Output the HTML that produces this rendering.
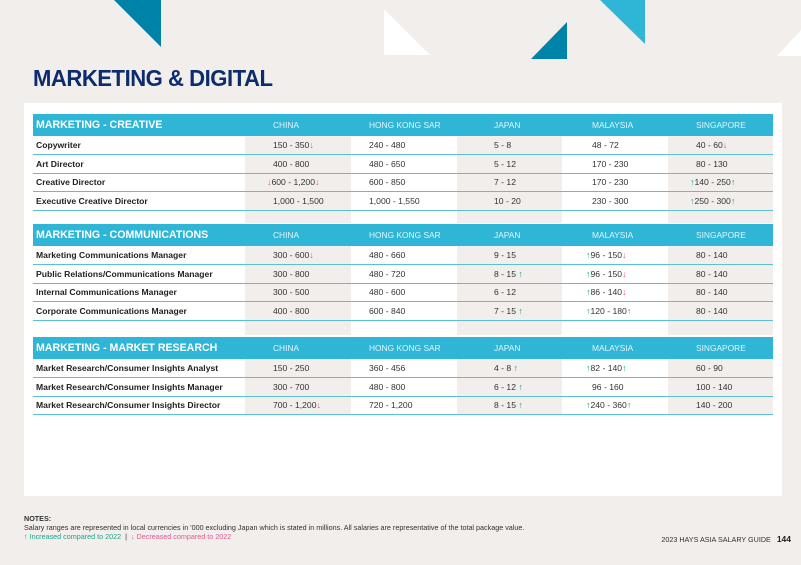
<!DOCTYPE html>
<html><head><meta charset="utf-8"><style>
*{margin:0;padding:0;box-sizing:border-box}
body{width:801px;height:565px;background:#f2eeeb;position:relative;overflow:hidden;font-family:"Liberation Sans",Arial,sans-serif}
.panel{position:absolute;left:24px;top:103px;width:758px;height:393px;background:#fff}
h1{position:absolute;left:33px;top:65px;font-size:23px;font-weight:bold;color:#0c2c6e;letter-spacing:-0.5px;transform:scaleX(0.96);transform-origin:left}
table{position:absolute;left:33px;width:740px;border-collapse:collapse;table-layout:fixed}
td{font-size:8.6px;color:#333;padding:0;height:18.5px;border-bottom:1.5px solid #5bbfd8;vertical-align:middle}
td.l{font-weight:bold;color:#222;padding-left:3px}
tr.h td{background:#2fb6d6;color:#e3f5fb;height:22px;border-bottom:none;font-size:8.4px}
tr.h td.l{font-size:10.6px;color:#fff;font-weight:bold}
tr.s td{height:auto;border-bottom:none}
.g{background:#f2eeeb}
td.c1{padding-left:28px}td.c2{padding-left:18px}td.c3{padding-left:37px}td.c4{padding-left:30px}td.c5{padding-left:28px}
.u{color:#19a58a;font-size:9px}.d{color:#e05a92;font-size:9px}
.foot{position:absolute;left:24px;font-size:7.2px;color:#333}
</style></head><body>
<svg width="801" height="100" style="position:absolute;left:0;top:0">
<polygon points="114,0 161,0 161,47" fill="#0083a9"/>
<polygon points="384,9 384,55 430,55" fill="#fff"/>
<polygon points="531,59 567,59 567,22" fill="#0083a9"/>
<polygon points="600,0 645,0 645,44" fill="#2fb6d6"/>
<polygon points="777,56 801,56 801,30" fill="#fff"/>
</svg>
<h1>MARKETING &amp; DIGITAL</h1>
<div class="panel"></div>

<table style="top:114px">
<colgroup><col style="width:212px"><col style="width:106px"><col style="width:106px"><col style="width:105px"><col style="width:106px"><col style="width:105px"></colgroup>
<tr class="h"><td class="l">MARKETING - CREATIVE</td><td class="c1">CHINA</td><td class="c2">HONG KONG SAR</td><td class="c3">JAPAN</td><td class="c4">MALAYSIA</td><td class="c5">SINGAPORE</td></tr>
<tr><td class="l">Copywriter</td><td class="c1 g">150 - 350<span class="d">↓</span></td><td class="c2">240 - 480</td><td class="c3 g">5 - 8</td><td class="c4">48 - 72</td><td class="c5 g">40 - 60<span class="d">↓</span></td></tr>
<tr><td class="l">Art Director</td><td class="c1 g">400 - 800</td><td class="c2">480 - 650</td><td class="c3 g">5 - 12</td><td class="c4">170 - 230</td><td class="c5 g">80 - 130</td></tr>
<tr><td class="l">Creative Director</td><td class="c1 g" style="padding-left:22px"><span class="d">↓</span>600 - 1,200<span class="d">↓</span></td><td class="c2">600 - 850</td><td class="c3 g">7 - 12</td><td class="c4">170 - 230</td><td class="c5 g" style="padding-left:22px"><span class="u">↑</span>140 - 250<span class="u">↑</span></td></tr>
<tr><td class="l">Executive Creative Director</td><td class="c1 g">1,000 - 1,500</td><td class="c2">1,000 - 1,550</td><td class="c3 g">10 - 20</td><td class="c4">230 - 300</td><td class="c5 g" style="padding-left:22px"><span class="u">↑</span>250 - 300<span class="u">↑</span></td></tr>
<tr class="s"><td style="height:13px"></td><td class="g"></td><td></td><td class="g"></td><td></td><td class="g"></td></tr>
</table>

<table style="top:224px">
<colgroup><col style="width:212px"><col style="width:106px"><col style="width:106px"><col style="width:105px"><col style="width:106px"><col style="width:105px"></colgroup>
<tr class="h"><td class="l">MARKETING - COMMUNICATIONS</td><td class="c1">CHINA</td><td class="c2">HONG KONG SAR</td><td class="c3">JAPAN</td><td class="c4">MALAYSIA</td><td class="c5">SINGAPORE</td></tr>
<tr><td class="l">Marketing Communications Manager</td><td class="c1 g">300 - 600<span class="d">↓</span></td><td class="c2">480 - 660</td><td class="c3 g">9 - 15</td><td class="c4" style="padding-left:24px"><span class="u">↑</span>96 - 150<span class="d">↓</span></td><td class="c5 g">80 - 140</td></tr>
<tr><td class="l">Public Relations/Communications Manager</td><td class="c1 g">300 - 800</td><td class="c2">480 - 720</td><td class="c3 g">8 - 15 <span class="u">↑</span></td><td class="c4" style="padding-left:24px"><span class="u">↑</span>96 - 150<span class="d">↓</span></td><td class="c5 g">80 - 140</td></tr>
<tr><td class="l">Internal Communications Manager</td><td class="c1 g">300 - 500</td><td class="c2">480 - 600</td><td class="c3 g">6 - 12</td><td class="c4" style="padding-left:24px"><span class="u">↑</span>86 - 140<span class="d">↓</span></td><td class="c5 g">80 - 140</td></tr>
<tr><td class="l">Corporate Communications Manager</td><td class="c1 g">400 - 800</td><td class="c2">600 - 840</td><td class="c3 g">7 - 15 <span class="u">↑</span></td><td class="c4" style="padding-left:24px"><span class="u">↑</span>120 - 180<span class="u">↑</span></td><td class="c5 g">80 - 140</td></tr>
<tr class="s"><td style="height:15px"></td><td class="g"></td><td></td><td class="g"></td><td></td><td class="g"></td></tr>
</table>

<table style="top:337px">
<colgroup><col style="width:212px"><col style="width:106px"><col style="width:106px"><col style="width:105px"><col style="width:106px"><col style="width:105px"></colgroup>
<tr class="h"><td class="l">MARKETING - MARKET RESEARCH</td><td class="c1">CHINA</td><td class="c2">HONG KONG SAR</td><td class="c3">JAPAN</td><td class="c4">MALAYSIA</td><td class="c5">SINGAPORE</td></tr>
<tr><td class="l">Market Research/Consumer Insights Analyst</td><td class="c1 g">150 - 250</td><td class="c2">360 - 456</td><td class="c3 g">4 - 8 <span class="u">↑</span></td><td class="c4" style="padding-left:24px"><span class="u">↑</span>82 - 140<span class="u">↑</span></td><td class="c5 g">60 - 90</td></tr>
<tr><td class="l">Market Research/Consumer Insights Manager</td><td class="c1 g">300 - 700</td><td class="c2">480 - 800</td><td class="c3 g">6 - 12 <span class="u">↑</span></td><td class="c4">96 - 160</td><td class="c5 g">100 - 140</td></tr>
<tr><td class="l">Market Research/Consumer Insights Director</td><td class="c1 g">700 - 1,200<span class="d">↓</span></td><td class="c2">720 - 1,200</td><td class="c3 g">8 - 15 <span class="u">↑</span></td><td class="c4" style="padding-left:24px"><span class="u">↑</span>240 - 360<span class="u">↑</span></td><td class="c5 g">140 - 200</td></tr>
</table>

<div class="foot" style="top:514px;font-weight:bold">NOTES:</div>
<div class="foot" style="top:523px">Salary ranges are represented in local currencies in '000 excluding Japan which is stated in millions. All salaries are representative of the total package value.</div>
<div class="foot" style="top:532px"><span style="color:#19a58a">↑ Increased compared to 2022</span> &nbsp;|&nbsp; <span style="color:#e05a92">↓ Decreased compared to 2022</span></div>
<div style="position:absolute;right:10px;top:534px;font-size:7.2px;color:#333">2023 HAYS ASIA SALARY GUIDE &nbsp;&nbsp;<b style="font-size:8.5px;color:#222">144</b></div>
</body></html>
